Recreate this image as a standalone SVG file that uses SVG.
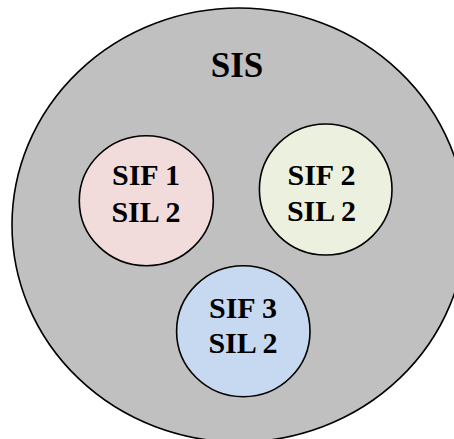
<svg xmlns="http://www.w3.org/2000/svg" width="454" height="439" viewBox="0 0 454 439">
  <style>
    .ring { stroke: #000; stroke-width: 1.6; }
    .lbl { font-family: "Liberation Serif", "Times New Roman", serif; font-weight: bold; fill: #000; text-anchor: middle; }
    .sif { font-size: 30px; }
    .sis { font-size: 35px; }
  </style>
  <rect width="454" height="439" fill="#fff"/>
  <g id="sis">
    <ellipse class="ring" cx="239" cy="225" rx="227" ry="217" fill="#c0c0c0"/>
    <text class="lbl sis" x="237" y="77">SIS</text>
  </g>
  <g id="sif1">
    <ellipse class="ring" cx="146.3" cy="200.7" rx="67" ry="65" fill="#f2dcdb"/>
    <text class="lbl sif" x="146" y="185">SIF 1</text>
    <text class="lbl sif" x="146" y="221.5">SIL 2</text>
  </g>
  <g id="sif2">
    <ellipse class="ring" cx="325.7" cy="189.5" rx="66.3" ry="65.5" fill="#ebf1de"/>
    <text class="lbl sif" x="321.5" y="185">SIF 2</text>
    <text class="lbl sif" x="321.5" y="221">SIL 2</text>
  </g>
  <g id="sif3">
    <ellipse class="ring" cx="243.3" cy="331.2" rx="66.7" ry="65.5" fill="#c6d9f1"/>
    <text class="lbl sif" x="243" y="318">SIF 3</text>
    <text class="lbl sif" x="243" y="353">SIL 2</text>
  </g>
  <g id="connectors"/>
</svg>
